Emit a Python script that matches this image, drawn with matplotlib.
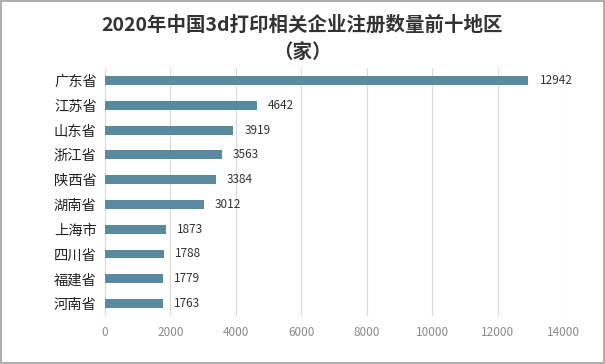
import matplotlib
matplotlib.use("Agg")
import matplotlib.pyplot as plt
from matplotlib.patches import Rectangle

plt.rcParams['font.family'] = ['Noto Sans CJK SC', 'DejaVu Sans']

regions = ["广东省", "江苏省", "山东省", "浙江省", "陕西省", "湖南省", "上海市", "四川省", "福建省", "河南省"]
counts = [12942, 4642, 3919, 3563, 3384, 3012, 1873, 1788, 1779, 1763]
xticks = [0, 2000, 4000, 6000, 8000, 10000, 12000, 14000]
title = "2020年中国3d打印相关企业注册数量前十地区\n（家）"

fig = plt.figure(figsize=(6.05, 3.64), dpi=100)
ax = fig.add_axes([0.1736, 0.132, 0.7570, 0.681])

ypos = list(range(len(regions)))
ax.barh(ypos, counts, height=0.36, color="#5A8AA0", zorder=3)
ax.set_ylim(len(regions) - 0.5, -0.5)
ax.set_xlim(0, 14000)
ax.set_yticks(ypos)
ax.set_yticklabels(regions, fontsize=10.3, color="#222222")
ax.set_xticks(xticks)
ax.set_xticklabels([str(t) for t in xticks], fontsize=8.5, color="#8a8a8a")
ax.tick_params(axis="both", length=0, pad=6)
ax.tick_params(axis="x", pad=7)
ax.grid(axis="x", color="#d9d9d9", linewidth=0.8, zorder=0)
for s in ax.spines.values():
    s.set_visible(False)

for y, v in zip(ypos, counts):
    ax.annotate(str(v), (v, y), xytext=(8, 0), textcoords="offset points",
                va="center", ha="left", fontsize=8.5, color="#333333")

fig.text(0.5, 0.893, title, ha="center", va="center", fontsize=14,
         fontweight="bold", color="#333333", linespacing=1.55)

fig.patches.append(Rectangle((0.002, 0.003), 0.996, 0.994, transform=fig.transFigure,
                             fill=False, edgecolor="#a0a0a0", linewidth=1.2))

fig.savefig("out.png", dpi=100, facecolor="white")
